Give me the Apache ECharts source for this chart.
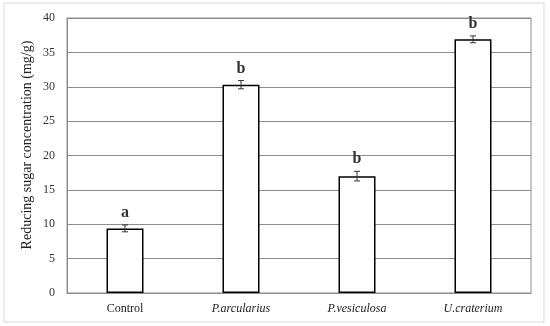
<!DOCTYPE html>
<html>
<head>
<meta charset="utf-8">
<script src="https://cdn.jsdelivr.net/npm/echarts@6/dist/echarts.min.js"></script>
<style>html,body{margin:0;padding:0;background:#fff}#c{width:550px;height:326px}</style>
</head>
<body>
<div id="c"></div>
<script>
var categories = ['Control', 'P.arcularius', 'P.vesiculosa', 'U.craterium'];
var values = [9.4, 30.3, 17.0, 36.9];
var errors = [0.5, 0.6, 0.7, 0.5];
var letters = ['a', 'b', 'b', 'b'];
var yTicks = [0, 5, 10, 15, 20, 25, 30, 35, 40];
var yTitle = 'Reducing sugar concentration (mg/g)';

var chart = echarts.init(document.getElementById('c'));
var serif = '"Liberation Serif", "Times New Roman", serif';
chart.setOption({
  animation: false,
  graphic: [{
    type: 'rect', shape: {x: 4, y: 3, width: 540, height: 319},
    style: {fill: 'none', stroke: '#d9d9d9', lineWidth: 1}, silent: true, z: -1
  }, {
    type: 'text', x: 27, y: 145, rotation: Math.PI / 2,
    style: {text: yTitle, fontFamily: serif, fontSize: 14, fill: '#222', align: 'center', verticalAlign: 'middle'}
  }],
  grid: {left: 67, right: 19, top: 18, bottom: 33, show: true, borderColor: '#8c8c8c', borderWidth: 1, backgroundColor: 'transparent'},
  xAxis: {
    type: 'category', data: categories,
    axisLine: {lineStyle: {color: '#8c8c8c'}}, axisTick: {show: false},
    axisLabel: {
      fontFamily: serif, fontSize: 12, color: '#222', margin: 10,
      formatter: function (v, i) { return i === 0 ? v : '{i|' + v + '}'; },
      rich: {i: {fontFamily: serif, fontSize: 12, fontStyle: 'italic', color: '#222'}}
    }
  },
  yAxis: {
    type: 'value', min: yTicks[0], max: yTicks[yTicks.length - 1], interval: 5,
    axisLine: {show: true, lineStyle: {color: '#8c8c8c'}}, axisTick: {show: false},
    axisLabel: {fontFamily: serif, fontSize: 12, color: '#333', margin: 12},
    splitLine: {lineStyle: {color: '#8c8c8c', width: 1}}
  },
  series: [{
    type: 'bar', data: values, barWidth: 37,
    itemStyle: {color: '#fff', borderColor: '#000', borderWidth: 1.5}
  }, {
    type: 'custom',
    data: values.map(function (v, i) { return [i, v, errors[i]]; }),
    renderItem: function (params, api) {
      var i = api.value(0), v = api.value(1), e = api.value(2);
      var top = api.coord([i, v + e]);
      var bot = api.coord([i, v - e]);
      var x = top[0], hw = 3;
      var st = {stroke: '#333', lineWidth: 1};
      return {
        type: 'group', children: [
          {type: 'line', shape: {x1: x, y1: top[1], x2: x, y2: bot[1]}, style: st},
          {type: 'line', shape: {x1: x - hw, y1: top[1], x2: x + hw, y2: top[1]}, style: st},
          {type: 'line', shape: {x1: x - hw, y1: bot[1], x2: x + hw, y2: bot[1]}, style: st},
          {type: 'text', x: x, y: top[1] - 4, style: {
            text: letters[params.dataIndex], fontFamily: serif, fontWeight: 'bold', fontSize: 16,
            fill: '#333', align: 'center', verticalAlign: 'bottom'}}
        ]
      };
    },
    z: 5
  }]
});
</script>
</body>
</html>
